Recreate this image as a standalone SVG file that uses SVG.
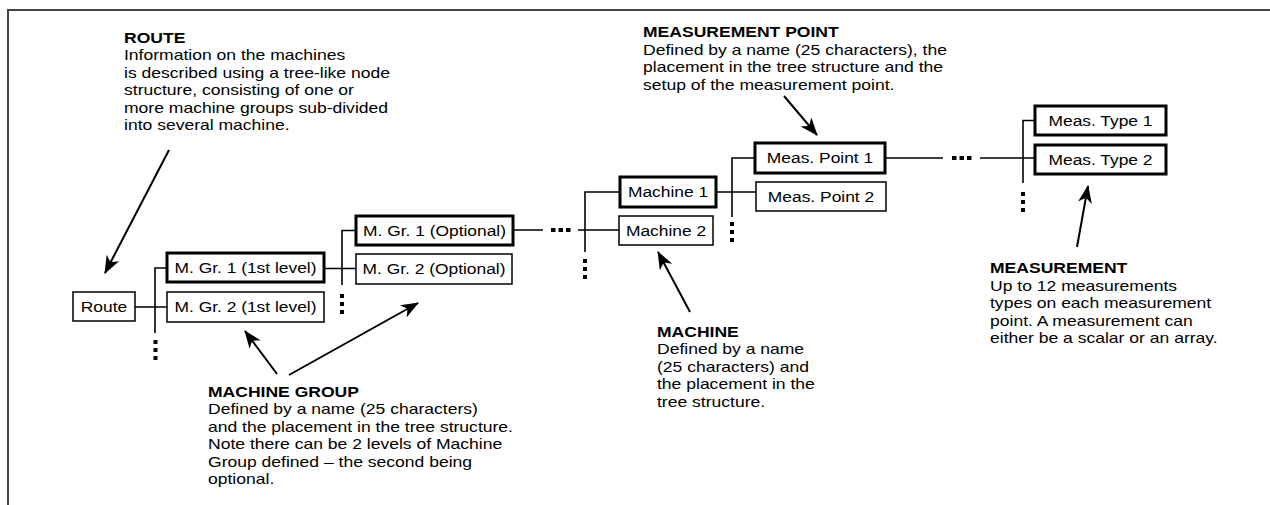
<svg xmlns="http://www.w3.org/2000/svg" width="1270" height="505" viewBox="0 0 1270 505">
<style>
.bx{fill:#fff;stroke:#000;stroke-width:1.5}
.bxt{fill:#fff;stroke:#000;stroke-width:3}
.lb{font-family:"Liberation Sans",Arial,sans-serif;font-size:14.5px;fill:#000;text-anchor:middle}
.tx{font-family:"Liberation Sans",Arial,sans-serif;font-size:14.5px;fill:#000}
.hd{font-weight:bold}
.ln{stroke:#000;stroke-width:1.6;fill:none}
.ar{stroke:#000;stroke-width:2;fill:none;marker-end:url(#ah)}
.dt{fill:#000}
</style>
<defs>
<marker id="ah" markerUnits="userSpaceOnUse" markerWidth="20" markerHeight="16" refX="17" refY="7" orient="auto">
<path d="M0,0 L18,7 L0,14 L5,7 z" fill="#000"/>
</marker>
</defs>
<rect x="0" y="0" width="1270" height="505" fill="#fff"/>
<path d="M8,505 V10 H1270" fill="none" stroke="#444" stroke-width="2"/>

<g id="connectors">
<path class="ln" d="M135,307 H167 M155,333 V268 H167"/>
<path class="ln" d="M324,268.5 H356 M342,285 V230.5 H356"/>
<path class="ln" d="M513,230 H543 M578,230 H619 M585,252 V192 H620"/>
<path class="ln" d="M716,192 H756 M732,217 V158 H755"/>
<path class="ln" d="M885,158 H943 M980,158 H1035 M1023,183 V120.5 H1035"/>
<g class="dt">
<rect x="153.5" y="340" width="4" height="4"/><rect x="153.5" y="348" width="4" height="4"/><rect x="153.5" y="356" width="4" height="4"/>
<rect x="340" y="294" width="4" height="4"/><rect x="340" y="302" width="4" height="4"/><rect x="340" y="310" width="4" height="4"/>
<rect x="583" y="259" width="4" height="4"/><rect x="583" y="267" width="4" height="4"/><rect x="583" y="275" width="4" height="4"/>
<rect x="730" y="222" width="4" height="4"/><rect x="730" y="230" width="4" height="4"/><rect x="730" y="238" width="4" height="4"/>
<rect x="1021" y="192" width="4" height="4"/><rect x="1021" y="200" width="4" height="4"/><rect x="1021" y="208" width="4" height="4"/>
<rect x="551" y="228" width="4.5" height="4"/><rect x="558.5" y="228" width="4.5" height="4"/><rect x="566" y="228" width="4.5" height="4"/>
<rect x="952" y="156" width="4.5" height="4"/><rect x="959.5" y="156" width="4.5" height="4"/><rect x="967" y="156" width="4.5" height="4"/>
</g>
<line class="ar" x1="169" y1="150" x2="105" y2="273"/>
<line class="ar" x1="277" y1="374" x2="245" y2="331"/>
<line class="ar" x1="289" y1="375" x2="418" y2="303"/>
<line class="ar" x1="690" y1="312" x2="658" y2="252"/>
<line class="ar" x1="784" y1="96" x2="817" y2="135"/>
<line class="ar" x1="1077" y1="247" x2="1088" y2="186"/>
</g>

<g id="route">
<rect class="bx" x="73" y="292" width="62" height="29"/>
<text class="lb" transform="translate(104,311.5) scale(1.2,1)">Route</text>
</g>
<g id="mgr1-1st">
<rect class="bxt" x="167" y="253" width="157" height="29"/>
<text class="lb" transform="translate(245.5,272.5) scale(1.2,1)">M. Gr. 1 (1st level)</text>
</g>
<g id="mgr2-1st">
<rect class="bx" x="167" y="292" width="157" height="30"/>
<text class="lb" transform="translate(245.5,312) scale(1.2,1)">M. Gr. 2 (1st level)</text>
</g>
<g id="mgr1-opt">
<rect class="bxt" x="356" y="216" width="157" height="29"/>
<text class="lb" transform="translate(434.5,235.5) scale(1.2,1)">M. Gr. 1 (Optional)</text>
</g>
<g id="mgr2-opt">
<rect class="bx" x="356" y="254" width="156" height="30"/>
<text class="lb" transform="translate(434,274) scale(1.2,1)">M. Gr. 2 (Optional)</text>
</g>
<g id="machine1">
<rect class="bxt" x="620" y="177" width="96" height="30"/>
<text class="lb" transform="translate(668,197) scale(1.2,1)">Machine 1</text>
</g>
<g id="machine2">
<rect class="bx" x="619" y="216" width="94" height="29"/>
<text class="lb" transform="translate(666,235.5) scale(1.2,1)">Machine 2</text>
</g>
<g id="measpoint1">
<rect class="bxt" x="755" y="143" width="130" height="30"/>
<text class="lb" transform="translate(820,163) scale(1.2,1)">Meas. Point 1</text>
</g>
<g id="measpoint2">
<rect class="bx" x="756" y="182" width="130" height="29"/>
<text class="lb" transform="translate(821,201.5) scale(1.2,1)">Meas. Point 2</text>
</g>
<g id="meastype1">
<rect class="bxt" x="1035" y="106" width="131" height="29"/>
<text class="lb" transform="translate(1100.5,125.5) scale(1.2,1)">Meas. Type 1</text>
</g>
<g id="meastype2">
<rect class="bxt" x="1035" y="145" width="131" height="29"/>
<text class="lb" transform="translate(1100.5,164.5) scale(1.2,1)">Meas. Type 2</text>
</g>

<g id="note-route" transform="translate(124,0) scale(1.21,1)">
<text class="tx hd" x="0" y="43">ROUTE</text>
<text class="tx" x="0" y="60.5">Information on the machines</text>
<text class="tx" x="0" y="78">is described using a tree-like node</text>
<text class="tx" x="0" y="95.5">structure, consisting of one or</text>
<text class="tx" x="0" y="113">more machine groups sub-divided</text>
<text class="tx" x="0" y="130.5">into several machine.</text>
</g>
<g id="note-machine-group" transform="translate(208,0) scale(1.21,1)">
<text class="tx hd" x="0" y="397">MACHINE GROUP</text>
<text class="tx" x="0" y="414.5">Defined by a name (25 characters)</text>
<text class="tx" x="0" y="432">and the placement in the tree structure.</text>
<text class="tx" x="0" y="449.5">Note there can be 2 levels of Machine</text>
<text class="tx" x="0" y="467">Group defined – the second being</text>
<text class="tx" x="0" y="484.5">optional.</text>
</g>
<g id="note-meas-point" transform="translate(643,0) scale(1.21,1)">
<text class="tx hd" x="0" y="37.5">MEASUREMENT POINT</text>
<text class="tx" x="0" y="55">Defined by a name (25 characters), the</text>
<text class="tx" x="0" y="72.5">placement in the tree structure and the</text>
<text class="tx" x="0" y="90">setup of the measurement point.</text>
</g>
<g id="note-machine" transform="translate(657,0) scale(1.21,1)">
<text class="tx hd" x="0" y="337">MACHINE</text>
<text class="tx" x="0" y="354.5">Defined by a name</text>
<text class="tx" x="0" y="372">(25 characters) and</text>
<text class="tx" x="0" y="389.5">the placement in the</text>
<text class="tx" x="0" y="407">tree structure.</text>
</g>
<g id="note-measurement" transform="translate(990,0) scale(1.21,1)">
<text class="tx hd" x="0" y="273.5">MEASUREMENT</text>
<text class="tx" x="0" y="291">Up to 12 measurements</text>
<text class="tx" x="0" y="308.5">types on each measurement</text>
<text class="tx" x="0" y="326">point. A measurement can</text>
<text class="tx" x="0" y="343.5">either be a scalar or an array.</text>
</g>
</svg>
